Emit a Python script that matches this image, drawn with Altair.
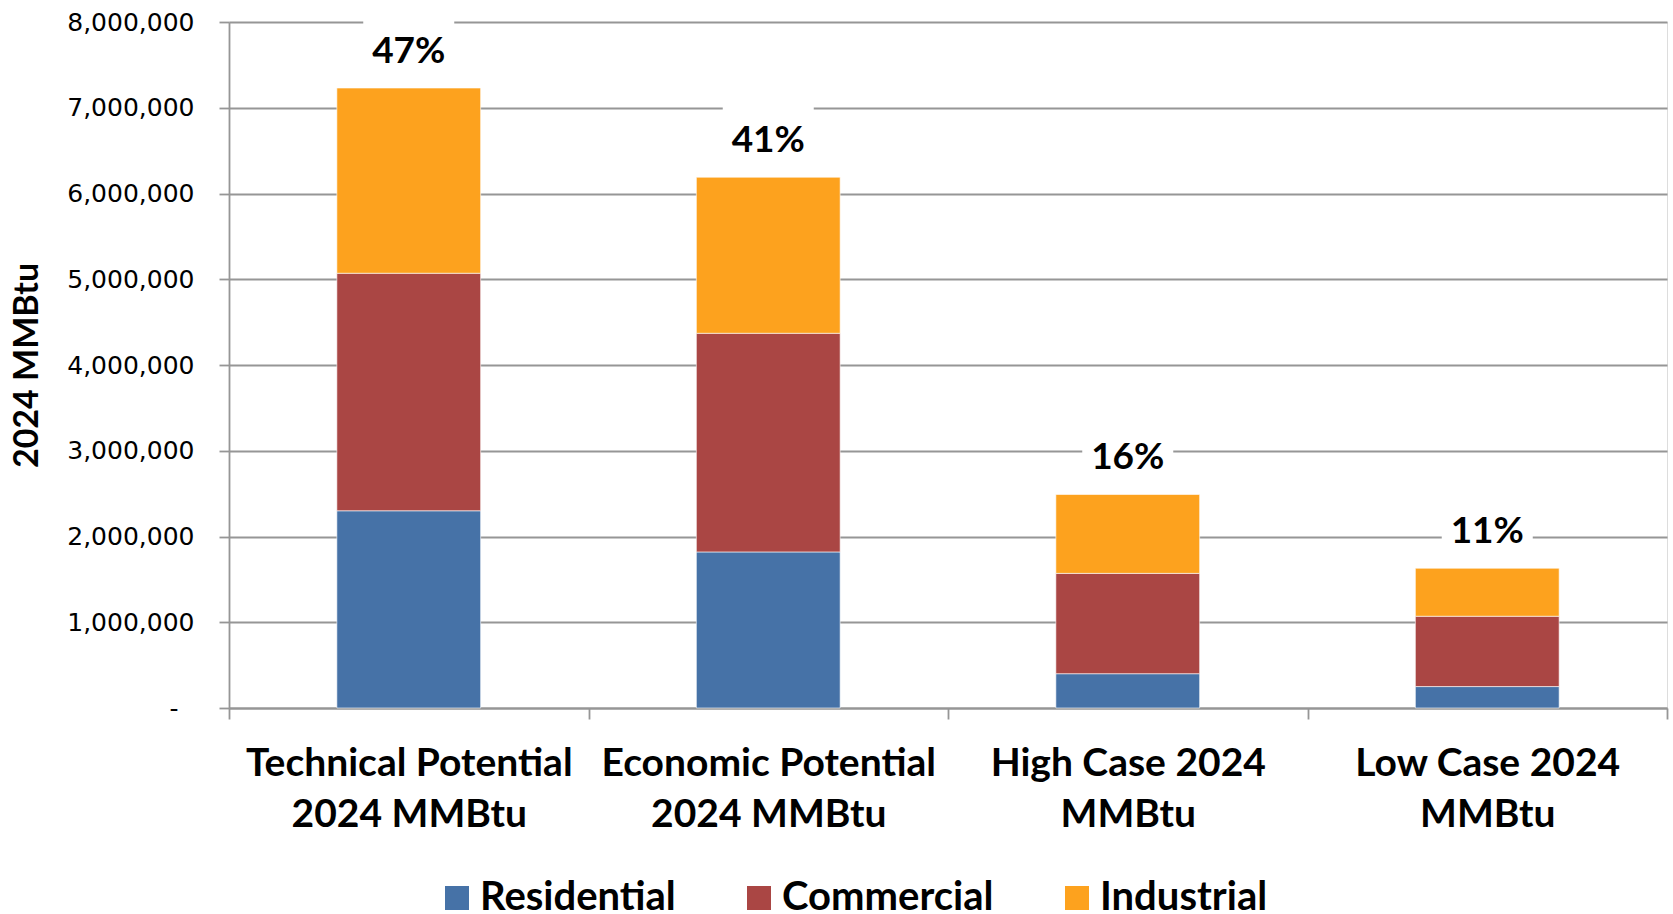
import altair as alt
import pandas as pd

categories = ["Technical Potential 2024 MMBtu", "Economic Potential 2024 MMBtu",
              "High Case 2024 MMBtu", "Low Case 2024 MMBtu"]
label_lines = [["Technical Potential", "2024 MMBtu"], ["Economic Potential", "2024 MMBtu"],
               ["High Case 2024", "MMBtu"], ["Low Case 2024", "MMBtu"]]
sectors = ["Residential", "Commercial", "Industrial"]
residential = [2300000, 1820000, 400000, 250000]
commercial = [2770000, 2550000, 1170000, 820000]
industrial = [2160000, 1820000, 920000, 560000]
percent_labels = ["47%", "41%", "16%", "11%"]
colors = ["#4672A7", "#AA4644", "#FDA21E"]

rows = []
for i, c in enumerate(categories):
    for j, (s, vals) in enumerate(zip(sectors, [residential, commercial, industrial])):
        rows.append({"category": c, "sector": s, "order": j, "value": vals[i]})
df = pd.DataFrame(rows)

tot = pd.DataFrame({
    "category": categories,
    "total": [r + c + n for r, c, n in zip(residential, commercial, industrial)],
    "pct": percent_labels,
})

label_expr = " : ".join(
    [f"datum.label == '{c}' ? {lines!r}" for c, lines in zip(categories, label_lines)]
) + " : datum.label"

font_b = "Lato"
x_enc = alt.X("category:N", sort=categories, title=None,
              scale=alt.Scale(paddingInner=0, paddingOuter=0),
              axis=alt.Axis(labelExpr=label_expr, labelAngle=0, labelFont=font_b,
                            labelFontWeight="bold", labelFontSize=39, labelColor="black",
                            labelLineHeight=51, labelPadding=25, labelBaseline="top",
                            tickBand="extent", tickSize=11, tickColor="#969696",
                            tickWidth=1.8, domainColor="#969696", domainWidth=1.8,
                            grid=False, labelLimit=400))

y_scale = alt.Scale(domain=[0, 8000000], nice=False)

bars = alt.Chart(df).mark_bar(width=alt.RelativeBandSize(0.4), stroke="white",
                              strokeWidth=0.6).encode(
    x=x_enc,
    y=alt.Y("value:Q", stack="zero", scale=y_scale, title="2024 MMBtu",
            axis=alt.Axis(values=list(range(0, 8000001, 1000000)),
                          labelExpr="datum.value == 0 ? '-\u00a0\u00a0\u200b' : format(datum.value, ',')",
                          labelFont="DejaVu Sans", labelFontSize=25, labelColor="black",
                          labelPadding=25, tickSize=10, tickColor="#969696", tickWidth=1.8,
                          domainColor="#969696", domainWidth=1.8,
                          gridColor="#969696", gridWidth=1.8,
                          titleFont=font_b, titleFontSize=34, titleFontWeight="bold",
                          titleColor="black", titleAngle=270, titleX=-202, titleY=343,
                          titleAlign="center", titleBaseline="middle")),
    color=alt.Color("sector:N", sort=sectors,
                    scale=alt.Scale(domain=sectors, range=colors),
                    legend=alt.Legend(title=None, orient="none", direction="horizontal",
                                      legendX=208, legendY=856, symbolType="square",
                                      symbolSize=576, symbolStrokeWidth=0,
                                      labelFont=font_b, labelFontWeight="bold",
                                      labelFontSize=40, labelColor="black",
                                      labelOffset=3, columnPadding=63, padding=0,
                                      labelLimit=400)),
    order=alt.Order("order:Q"),
)

boxes = alt.Chart(tot).mark_point(
    shape="M-1,-0.75H1V0.75H-1Z", size=8281, filled=True, color="white",
    opacity=1, strokeWidth=0, yOffset=-36
).encode(x=alt.X("category:N", sort=categories), y=alt.Y("total:Q", scale=y_scale))

labels = alt.Chart(tot).mark_text(
    font=font_b, fontWeight="bold", fontSize=37, color="black", baseline="middle",
    yOffset=-36
).encode(x=alt.X("category:N", sort=categories), y=alt.Y("total:Q", scale=y_scale),
         text="pct:N")

chart = alt.layer(bars, boxes, labels).properties(
    width=1438, height=686,
    autosize=alt.AutoSizeParams(type="none"),
    padding={"left": 229, "top": 22, "right": 6, "bottom": 206},
).configure_view(stroke=None).configure(background="white")

chart.save("out.html", embed_options={"renderer": "svg", "actions": False})
